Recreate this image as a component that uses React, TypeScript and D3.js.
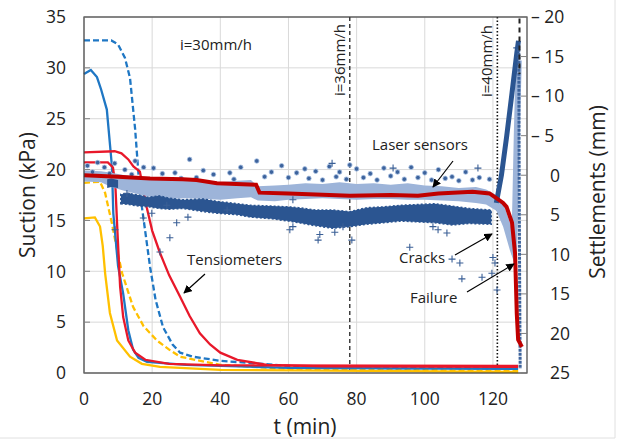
import React from "react"
import * as d3 from "d3"

// tensiometer readings, t (min) / suction (kPa)
const blueDashed = [[0, 32.7], [8, 32.7], [10, 32.3], [12, 31], [13.5, 29], [15, 24], [16, 19.5], [17, 16.3], [19.4, 10.4], [21, 7.2], [23.2, 4.5], [26, 2.8], [28.2, 2.0], [32, 1.6], [40, 1.2], [60, 0.7], [80, 0.5], [127.4, 0.45]]
const blueSolid = [[0, 29.4], [2, 29.8], [3.8, 29.1], [5, 27.9], [6.7, 25.9], [8.2, 20.3], [8.6, 15.7], [10, 10.5], [11.5, 7.8], [13, 4.2], [14.4, 2.3], [16, 1.5], [18.5, 1.1], [30, 0.8], [60, 0.5], [127.4, 0.4]]
const redSlow = [[0, 21.7], [9, 21.8], [11, 21.6], [13, 21], [14.5, 20.3], [16.4, 19.8], [18.4, 16.3], [20, 14], [22.3, 11.8], [25, 9.6], [28.2, 7.5], [31, 5.6], [34, 3.9], [37, 2.8], [40, 2.0], [45, 1.3], [53.7, 0.8], [70, 0.65], [127.4, 0.6]]
const redFast = [[0, 20.7], [7, 20.7], [8.5, 20.2], [9.2, 18.5], [9.8, 14], [10.6, 8.5], [11.5, 5.5], [13, 3.2], [15, 2], [18, 1.3], [25, 0.9], [40, 0.75], [127.4, 0.7]]
const yellowDashed = [[0, 18.7], [4.7, 18.8], [6.2, 17.7], [8.2, 14.7], [9.7, 12.1], [11.2, 9.8], [14.4, 6.5], [17.5, 4.6], [21.4, 3.2], [25, 2.3], [28.2, 1.6], [40, 0.8], [60, 0.4], [127.4, 0.2]]
const yellowSolid = [[0, 15.2], [3.2, 15.3], [4.7, 14.4], [5.5, 12.5], [6.2, 9.8], [7.6, 5.9], [9.7, 3.2], [13.5, 1.6], [17, 0.9], [22.3, 0.6], [40, 0.3], [127.4, 0.1]]

// laser sensors, t (min) / settlement (mm): [t, upper edge, lower edge]
const lightBand = [[0, -0.6, 0.8], [5, -0.5, 0.9], [8, -0.3, 1.5], [12, 0, 2.0], [16, 0.3, 2.4], [20, 0.5, 2.8], [25, 0.6, 3.0], [30, 0.5, 2.9], [35, 0.8, 3.0], [40, 0.9, 3.1], [45, 0.7, 2.9], [49, 0.6, 2.8], [51, 1.4, 3.2], [56, 1.3, 3.3], [60, 1.2, 3.1], [65, 1.0, 3.0], [70, 1.1, 2.9], [75, 0.9, 3.0], [80, 1.1, 3.1], [85, 1.0, 3.0], [90, 1.2, 3.0], [95, 1.0, 3.1], [100, 1.3, 3.1], [105, 1.4, 3.2], [110, 1.6, 3.3], [115, 1.5, 3.5], [118, 1.8, 3.7], [121, 2.5, 4.5], [123, 3.5, 6.5], [125, 6, 9.5], [126.2, 8, 11]]
const darkBandEarly = [[6.8, 0.5, 1.6], [8, 0.4, 1.5], [10, 0.6, 1.6]]
const darkBand = [[10.8, 2.4, 3.6], [13, 2.3, 3.7], [16, 2.5, 3.9], [19, 2.8, 4.0], [22, 2.6, 4.2], [25, 2.9, 4.3], [29, 3.1, 4.2], [35, 3.0, 4.6], [39, 3.3, 4.8], [45, 3.6, 5.0], [49, 3.8, 5.3], [55, 3.9, 5.5], [60, 4.0, 5.8], [63, 4.1, 6.0], [68, 4.4, 6.4], [73, 4.4, 6.7], [78, 4.6, 6.5], [83, 4.1, 6.2], [88, 4.0, 6.0], [93, 3.8, 5.8], [98, 3.7, 5.9], [103, 3.6, 6.0], [108, 3.9, 6.3], [113, 4.2, 6.1], [119.5, 4.4, 6.2]]
const redLaser = [[0, 0], [10, 0.2], [19.4, 0.4], [29, 0.5], [33, 0.6], [39, 1.0], [50.5, 1.2], [51.5, 2.2], [60, 2.3], [78, 2.6], [90, 2.5], [98, 2.6], [104, 2.3], [114, 2.1], [119, 2.3], [121, 2.9], [123, 3.5], [124, 4.0], [125.6, 6], [126.5, 9.9], [127, 17.5], [127.4, 20.8], [128.5, 21.7]]
const darkSpike = [[121, 3.5], [122.5, 0], [124, -4.8], [125.6, -10.4], [127, -15.4], [127.5, -17]]
const lightSpike = [[126.2, 10], [126.6, 3], [127, -5], [127.3, -10], [127.6, -14.5]]
const darkDrop = [[127.6, -16], [127.7, 0], [127.8, 10], [127.9, 18], [128, 24.5]]
const failureMark = [[127.8, -19.8], [127.8, -12.8]]
const laserDots = [[1, -1.2], [2.5, -0.4], [4, -1.6], [6, -1.0], [7.5, -0.2], [9, -1.5], [12, -0.7], [14, -0.1], [15, -1.8], [17.5, -1.0], [20.4, -0.9], [23, -0.2], [26.7, -0.3], [28.5, 0.4], [31, -2.0], [33, 0.3], [35, -0.6], [38, -0.1], [42.8, -0.3], [44, 0.5], [46, -1.0], [50.7, -1.8], [53, 0.2], [55, -0.4], [58, -1.2], [60, 0.3], [62.4, -0.3], [64.8, -0.8], [66, 0.4], [68, -0.5], [70, 0.6], [72, -1.1], [74, 0.2], [75, -0.4], [77, 0.5], [78, -1.3], [80, -0.8], [82, 0.3], [84, -0.2], [86, 0.6], [88, -0.9], [90, 0.1], [92, -0.4], [94, 0.5], [96, -1.0], [98, 0.3], [100, -0.3], [102, 0.6], [104, -0.7], [106, 0.4], [108, 0.2], [110, 0.7], [112, -0.4], [114, 0.6], [116, 0.3], [119, 0.5]]
const laserPlus = [[9.1, 6.9], [12.6, 2.3], [17.4, 5.4], [19.9, 4.8], [22.3, 9.7], [24.3, 3.8], [25.2, 7.9], [27.2, 6.0], [30.5, 5.3], [42, 4.4], [60.4, 6.9], [61.3, 3.1], [61.3, 6.5], [68.7, 8.2], [69.2, 7.5], [72.8, -1.5], [73.6, 7.2], [76, 6.5], [78.6, 8.2], [90.7, -0.9], [95.6, 9.1], [102.4, 6.5], [103.9, 6.9], [106.5, 7.3], [108, 10.6], [110.3, 11.1], [110.9, 13.1], [115.6, -0.9], [116.8, 12.9], [119.7, 12.4], [120, 10.4], [120.6, 11.1], [121.2, 14.5], [127, -16.1]]

const vLines = [78, 121.3]
const leftTicks = [0, 5, 10, 15, 20, 25, 30, 35]
const rightTicks = [-20, -15, -10, -5, 0, 5, 10, 15, 20, 25]
const xTicks = [0, 20, 40, 60, 80, 100, 120]

const FONT = "'Open Sans', sans-serif"

const App = () => {
    const x = d3.scaleLinear().domain([0, 130]).range([84, 527])
    const yL = d3.scaleLinear().domain([0, 35]).range([373, 17])
    const yR = d3.scaleLinear().domain([-20, 25]).range([17, 373])

    const lineL = d3.line().x(d => x(d[0])).y(d => yL(d[1]))
    const lineR = d3.line().x(d => x(d[0])).y(d => yR(d[1]))
    const band = d3.area().x(d => x(d[0])).y0(d => yR(d[1])).y1(d => yR(d[2]))

    const tensio = [
        { pts: yellowSolid, color: "#ffc000", dash: null },
        { pts: yellowDashed, color: "#ffc000", dash: "6,3" },
        { pts: blueSolid, color: "#1f77c4", dash: null },
        { pts: blueDashed, color: "#1f77c4", dash: "6,3" },
        { pts: redFast, color: "#e8182a", dash: null },
        { pts: redSlow, color: "#e8182a", dash: null },
    ]

    const arrows = [
        [453, 161, 433, 187],
        [205, 274, 184, 293],
        [455, 255, 492, 234],
        [467, 292, 514, 264],
    ]

    return (
        <svg width={618} height={441} style={{ position: "absolute", left: 0, top: 0, background: "#fff" }}>
            <defs>
                <marker id="ah" viewBox="0 0 10 10" refX="9" refY="5" markerWidth="7" markerHeight="7" orient="auto">
                    <path d="M0,0 L10,5 L0,10 z" fill="#000" />
                </marker>
            </defs>
            <line x1={615} y1={0} x2={615} y2={438} stroke="#e0e0e0" />
            <line x1={0} y1={438} x2={615} y2={438} stroke="#e0e0e0" />

            {leftTicks.map(t => (
                <line key={"gh" + t} x1={84} x2={527} y1={yL(t)} y2={yL(t)} stroke="#d9d9d9" />
            ))}
            {xTicks.map(t => (
                <line key={"gv" + t} x1={x(t)} x2={x(t)} y1={17} y2={373} stroke="#d9d9d9" />
            ))}

            {vLines.map((t, i) => (
                <line key={"vl" + t} x1={x(t)} x2={x(t)} y1={17} y2={373} stroke="#111"
                    strokeWidth={i === 0 ? 1.2 : 1.6} strokeDasharray={i === 0 ? "4,3" : "1.5,2"} />
            ))}

            {tensio.map((s, i) => (
                <path key={"ts" + i} d={lineL(s.pts)} fill="none" stroke={s.color} strokeWidth={2.3}
                    strokeDasharray={s.dash || undefined} />
            ))}

            <path d={band(lightBand)} fill="#9db4d9" />
            <path d={band(darkBandEarly)} fill="#2b5591" />
            <path d={band(darkBand)} fill="#2b5591" stroke="#2b5591" strokeWidth={1.5} strokeDasharray="2,2" />
            {laserDots.map((d, i) => (
                <circle key={"ld" + i} cx={x(d[0])} cy={yR(d[1])} r={2.3} fill="#3d639c" stroke="#a9c1e3" strokeWidth={0.8} />
            ))}
            {laserPlus.map((d, i) => (
                <path key={"lp" + i} d={`M${x(d[0]) - 3.5},${yR(d[1])}h7M${x(d[0])},${yR(d[1]) - 3.5}v7`}
                    stroke="#3a5f96" strokeWidth={1.1} />
            ))}
            <path d={lineR(lightSpike)} fill="none" stroke="#9db4d9" strokeWidth={6} />
            <path d={lineR(darkSpike)} fill="none" stroke="#2b5591" strokeWidth={5} />
            <path d={lineR(darkDrop)} fill="none" stroke="#3d639c" strokeWidth={3} strokeDasharray="3,1" />
            <path d={lineR(redLaser)} fill="none" stroke="#c00000" strokeWidth={4} />
            <path d={lineR(failureMark)} fill="none" stroke="#222" strokeWidth={2} strokeDasharray="5,4" />

            <rect x={84} y={17} width={443} height={356} fill="none" stroke="#404040" strokeWidth={1.2} />
            {leftTicks.map(t => (
                <line key={"lt" + t} x1={84} x2={90} y1={yL(t)} y2={yL(t)} stroke="#808080" />
            ))}
            {rightTicks.map(t => (
                <line key={"rt" + t} x1={521} x2={527} y1={yR(t)} y2={yR(t)} stroke="#808080" />
            ))}

            <g fontFamily={FONT} fontSize={17.5} fill="#222">
                {leftTicks.map(t => (
                    <text key={"ll" + t} x={66} y={yL(t)} dy="0.36em" textAnchor="end">{t}</text>
                ))}
                {xTicks.map(t => (
                    <text key={"xl" + t} x={x(t)} y={405} textAnchor="middle">{t}</text>
                ))}
                {rightTicks.map(t => (
                    <text key={"rl" + t} x={t < 0 ? 531 : 550} y={yR(t)} dy="0.36em">
                        {t < 0 ? "– " + Math.abs(t) : t}
                    </text>
                ))}
            </g>
            <g fontFamily={FONT} fontSize={21} fill="#222" textAnchor="middle">
                <text x={305} y={434}>t (min)</text>
                <text transform="translate(35,195) rotate(-90)">Suction (kPa)</text>
                <text transform="translate(605,192) rotate(-90)">Settlements (mm)</text>
            </g>
            <g fontFamily={FONT} fontSize={15} fill="#222">
                <text x={180} y={50}>i=30mm/h</text>
                <text transform="translate(345,96) rotate(-90)">i=36mm/h</text>
                <text transform="translate(492,97) rotate(-90)">i=40mm/h</text>
                <text x={372} y={150}>Laser sensors</text>
                <text x={187} y={265}>Tensiometers</text>
                <text x={399} y={263}>Cracks</text>
                <text x={410} y={303}>Failure</text>
            </g>
            {arrows.map((a, i) => (
                <line key={"ar" + i} x1={a[0]} y1={a[1]} x2={a[2]} y2={a[3]} stroke="#000" strokeWidth={1.2} markerEnd="url(#ah)" />
            ))}
        </svg>
    )
}

export default App
